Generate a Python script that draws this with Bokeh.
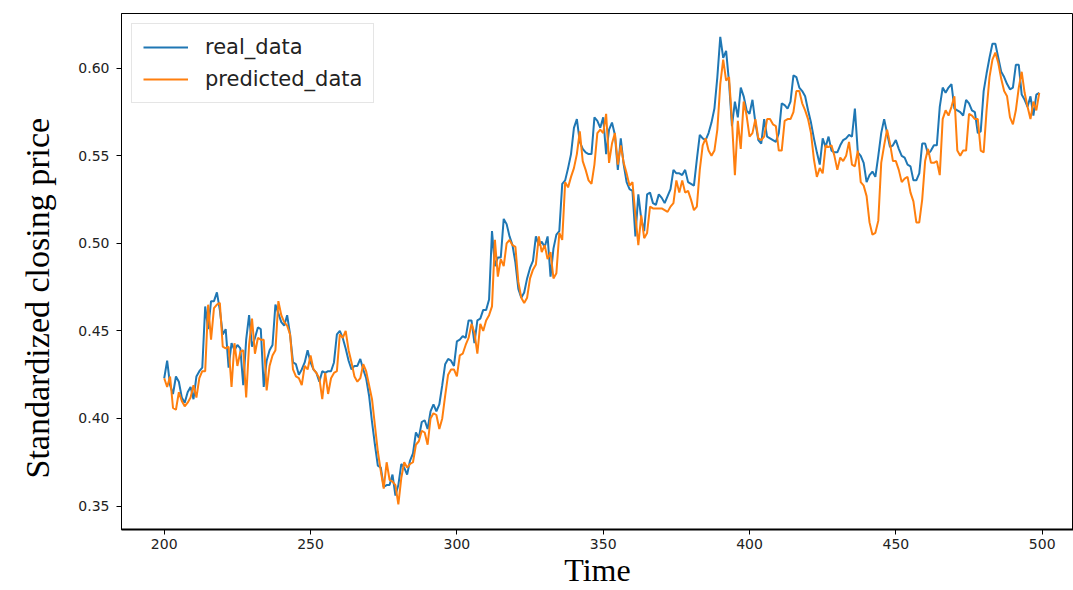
from bokeh.plotting import figure
from bokeh.models import Range1d, FixedTicker, NumeralTickFormatter, Legend, LegendItem, Title
from bokeh.embed import file_html
from bokeh.resources import INLINE

# time index
time = list(range(200, 500))

# standardized closing price, real
real_data = [
    0.423, 0.433, 0.419, 0.414, 0.424, 0.421, 0.412, 0.409, 0.415, 0.418,  # 200
    0.411, 0.424, 0.427, 0.429, 0.464, 0.451, 0.467, 0.467, 0.472, 0.462,  # 210
    0.448, 0.451, 0.429, 0.443, 0.439, 0.442, 0.440, 0.419, 0.445, 0.459,  # 220
    0.441, 0.446, 0.452, 0.451, 0.418, 0.433, 0.439, 0.442, 0.465, 0.460,  # 230
    0.455, 0.453, 0.459, 0.448, 0.432, 0.431, 0.425, 0.428, 0.432, 0.439,  # 240
    0.432, 0.428, 0.426, 0.421, 0.427, 0.426, 0.427, 0.427, 0.432, 0.448,  # 250
    0.450, 0.446, 0.440, 0.433, 0.428, 0.430, 0.430, 0.434, 0.428, 0.423,  # 260
    0.413, 0.398, 0.385, 0.373, 0.372, 0.361, 0.362, 0.362, 0.368, 0.356,  # 270
    0.362, 0.374, 0.372, 0.368, 0.376, 0.380, 0.392, 0.389, 0.398, 0.399,  # 280
    0.394, 0.404, 0.408, 0.404, 0.408, 0.419, 0.431, 0.434, 0.433, 0.430,  # 290
    0.444, 0.445, 0.447, 0.446, 0.456, 0.456, 0.443, 0.456, 0.457, 0.462,  # 300
    0.462, 0.468, 0.507, 0.487, 0.492, 0.492, 0.514, 0.511, 0.504, 0.499,  # 310
    0.489, 0.474, 0.469, 0.472, 0.480, 0.486, 0.490, 0.504, 0.499, 0.501,  # 320
    0.498, 0.504, 0.481, 0.497, 0.505, 0.507, 0.534, 0.536, 0.543, 0.551,  # 330
    0.566, 0.571, 0.558, 0.554, 0.552, 0.551, 0.551, 0.572, 0.570, 0.566,  # 340
    0.572, 0.551, 0.565, 0.569, 0.562, 0.542, 0.560, 0.545, 0.535, 0.531,  # 350
    0.530, 0.504, 0.528, 0.514, 0.507, 0.528, 0.529, 0.523, 0.522, 0.528,  # 360
    0.526, 0.523, 0.527, 0.531, 0.542, 0.540, 0.540, 0.539, 0.542, 0.535,  # 370
    0.534, 0.533, 0.548, 0.562, 0.560, 0.559, 0.563, 0.569, 0.577, 0.595,  # 380
    0.618, 0.606, 0.610, 0.592, 0.567, 0.581, 0.572, 0.589, 0.584, 0.576,  # 390
    0.574, 0.582, 0.569, 0.559, 0.557, 0.571, 0.561, 0.560, 0.559, 0.558,  # 400
    0.563, 0.580, 0.579, 0.577, 0.581, 0.596, 0.595, 0.589, 0.587, 0.584,  # 410
    0.576, 0.569, 0.560, 0.552, 0.545, 0.560, 0.555, 0.561, 0.553, 0.552,  # 420
    0.552, 0.556, 0.559, 0.560, 0.562, 0.561, 0.577, 0.552, 0.550, 0.546,  # 430
    0.535, 0.539, 0.541, 0.538, 0.550, 0.563, 0.571, 0.563, 0.555, 0.556,  # 440
    0.559, 0.554, 0.550, 0.549, 0.545, 0.544, 0.536, 0.536, 0.540, 0.557,  # 450
    0.557, 0.551, 0.553, 0.556, 0.556, 0.578, 0.589, 0.586, 0.589, 0.591,  # 460
    0.577, 0.576, 0.575, 0.573, 0.582, 0.580, 0.576, 0.575, 0.563, 0.564,  # 470
    0.587, 0.597, 0.606, 0.614, 0.614, 0.606, 0.598, 0.595, 0.591, 0.588,  # 480
    0.589, 0.602, 0.602, 0.585, 0.582, 0.578, 0.584, 0.573, 0.585, 0.586,  # 490
]

# standardized closing price, predicted
predicted_data = [
    0.423, 0.418, 0.424, 0.406, 0.405, 0.415, 0.410, 0.407, 0.409, 0.412,  # 200
    0.419, 0.412, 0.423, 0.427, 0.427, 0.465, 0.445, 0.463, 0.465, 0.466,  # 210
    0.441, 0.440, 0.441, 0.418, 0.443, 0.430, 0.438, 0.439, 0.412, 0.442,  # 220
    0.457, 0.437, 0.446, 0.445, 0.445, 0.416, 0.430, 0.436, 0.439, 0.467,  # 230
    0.459, 0.455, 0.453, 0.448, 0.428, 0.424, 0.423, 0.419, 0.430, 0.428,  # 240
    0.436, 0.428, 0.426, 0.423, 0.411, 0.426, 0.414, 0.423, 0.426, 0.427,  # 250
    0.448, 0.446, 0.450, 0.439, 0.432, 0.424, 0.421, 0.423, 0.431, 0.427,  # 260
    0.419, 0.411, 0.396, 0.381, 0.370, 0.360, 0.375, 0.365, 0.364, 0.362,  # 270
    0.351, 0.366, 0.375, 0.372, 0.374, 0.375, 0.385, 0.387, 0.393, 0.392,  # 280
    0.385, 0.400, 0.403, 0.402, 0.394, 0.400, 0.413, 0.425, 0.428, 0.428,  # 290
    0.424, 0.436, 0.437, 0.442, 0.446, 0.454, 0.449, 0.437, 0.454, 0.450,  # 300
    0.456, 0.459, 0.464, 0.502, 0.481, 0.491, 0.487, 0.500, 0.502, 0.499,  # 310
    0.498, 0.478, 0.469, 0.466, 0.469, 0.480, 0.485, 0.488, 0.504, 0.495,  # 320
    0.499, 0.491, 0.495, 0.480, 0.483, 0.506, 0.502, 0.535, 0.532, 0.538,  # 330
    0.543, 0.551, 0.564, 0.547, 0.542, 0.536, 0.534, 0.545, 0.563, 0.565,  # 340
    0.563, 0.574, 0.546, 0.557, 0.563, 0.545, 0.556, 0.546, 0.540, 0.533,  # 350
    0.535, 0.516, 0.499, 0.516, 0.503, 0.506, 0.521, 0.520, 0.520, 0.520,  # 360
    0.520, 0.519, 0.518, 0.521, 0.523, 0.536, 0.529, 0.536, 0.529, 0.530,  # 370
    0.525, 0.519, 0.521, 0.542, 0.556, 0.560, 0.553, 0.550, 0.553, 0.565,  # 380
    0.591, 0.605, 0.593, 0.595, 0.570, 0.539, 0.570, 0.554, 0.581, 0.573,  # 390
    0.561, 0.563, 0.571, 0.560, 0.559, 0.561, 0.571, 0.571, 0.568, 0.567,  # 400
    0.553, 0.553, 0.570, 0.571, 0.571, 0.575, 0.587, 0.587, 0.580, 0.576,  # 410
    0.571, 0.563, 0.548, 0.538, 0.543, 0.540, 0.556, 0.555, 0.556, 0.550,  # 420
    0.542, 0.549, 0.547, 0.550, 0.558, 0.545, 0.544, 0.553, 0.535, 0.533,  # 430
    0.527, 0.512, 0.505, 0.506, 0.513, 0.546, 0.556, 0.565, 0.557, 0.547,  # 440
    0.547, 0.542, 0.535, 0.537, 0.538, 0.529, 0.524, 0.512, 0.512, 0.525,  # 450
    0.547, 0.554, 0.546, 0.546, 0.547, 0.539, 0.571, 0.576, 0.573, 0.578,  # 460
    0.584, 0.553, 0.550, 0.553, 0.553, 0.574, 0.573, 0.571, 0.571, 0.553,  # 470
    0.552, 0.576, 0.595, 0.605, 0.609, 0.603, 0.594, 0.587, 0.584, 0.572,  # 480
    0.568, 0.576, 0.589, 0.598, 0.586, 0.578, 0.571, 0.581, 0.576, 0.586,  # 490
]

x_ticks = [200, 250, 300, 350, 400, 450, 500]
y_ticks = [0.35, 0.40, 0.45, 0.50, 0.55, 0.60]
x_title = "Time"
y_title = "Standardized closing price"

assert len(real_data) == len(time) == len(predicted_data)

p = figure(
    width=1073, height=590,
    output_backend="svg", toolbar_location=None,
    x_range=Range1d(185.4, 510.7), y_range=Range1d(0.3366, 0.6313),
    min_border_left=120, min_border_right=0, min_border_top=13, min_border_bottom=59,
)
p.background_fill_color = "white"
p.border_fill_color = "white"
p.outline_line_color = "black"
p.outline_line_width = 1
p.xgrid.visible = False
p.ygrid.visible = False

r1 = p.line(time, real_data, line_color="#1f77b4", line_width=2)
r2 = p.line(time, predicted_data, line_color="#ff7f0e", line_width=2)

for ax in (p.xaxis[0], p.yaxis[0]):
    ax.minor_tick_line_color = None
    ax.major_tick_out = 5
    ax.major_tick_in = 0
    ax.major_tick_line_color = "black"
    ax.axis_line_color = "black"
    ax.major_label_text_font = "DejaVu Sans"
    ax.major_label_text_font_size = "14px"
    ax.major_label_text_color = "#222222"

p.xaxis.ticker = FixedTicker(ticks=x_ticks)
p.yaxis.ticker = FixedTicker(ticks=y_ticks)
p.yaxis.formatter = NumeralTickFormatter(format="0.00")
p.xaxis.axis_line_width = 2
p.xaxis.major_label_standoff = 4
p.yaxis.major_label_standoff = 7

# x title as axis label
p.xaxis.axis_label = x_title
p.xaxis.axis_label_standoff = 0
p.xaxis.axis_label_text_font = "Liberation Serif"
p.xaxis.axis_label_text_font_style = "normal"
p.xaxis.axis_label_text_font_size = "32px"
p.xaxis.axis_label_text_color = "black"

# y title as a side title, anchored at the bottom and lifted by an offset
yt = Title(text=y_title, align="left", offset=51, standoff=36, vertical_align="top",
           text_font="Liberation Serif", text_font_style="normal",
           text_font_size="34px", text_color="black")
p.add_layout(yt, "left")

legend = Legend(items=[
    LegendItem(label="real_data", renderers=[r1]),
    LegendItem(label="predicted_data", renderers=[r2]),
], location="top_left")
legend.margin = 10
legend.padding = 11
legend.spacing = 8
legend.glyph_width = 45
legend.glyph_height = 22
legend.label_standoff = 17
legend.label_text_font = "DejaVu Sans"
legend.label_text_font_size = "21px"
legend.label_text_color = "#222222"
legend.border_line_color = "#cccccc"
legend.border_line_width = 1
legend.background_fill_alpha = 0.8
p.add_layout(legend)

open("out.html", "w").write(file_html(p, INLINE))
